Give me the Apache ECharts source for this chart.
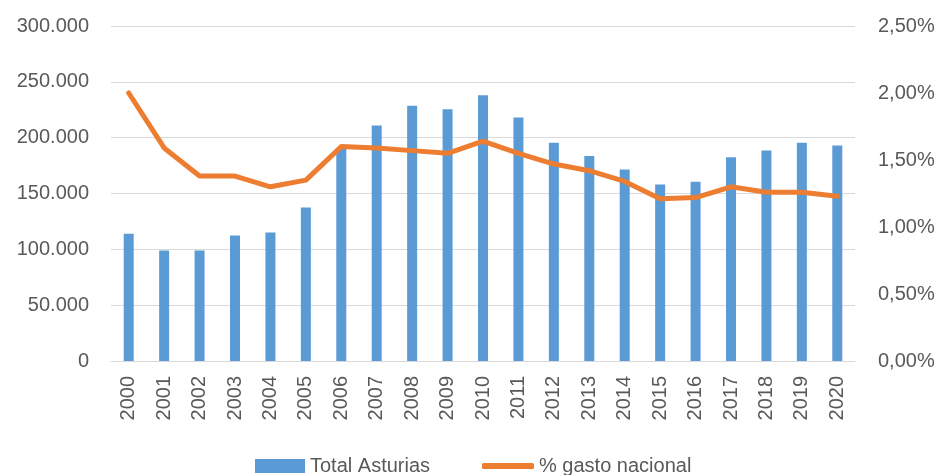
<!DOCTYPE html>
<html>
<head>
<meta charset="utf-8">
<script src="https://cdn.jsdelivr.net/npm/echarts@6/dist/echarts.min.js"></script>
<style>
  html, body { margin: 0; padding: 0; background: #fff; }
  #main { width: 940px; height: 475px; }
</style>
</head>
<body>
<div id="main"></div>
<script>
// datos
var years = ['2000', '2001', '2002', '2003', '2004', '2005', '2006', '2007', '2008', '2009', '2010',
    '2011', '2012', '2013', '2014', '2015', '2016', '2017', '2018', '2019', '2020'];
var totalAsturias = [114000, 99000, 99000, 112500, 115000, 137500, 190000, 211000, 228500, 225500, 238000,
    218000, 195500, 183500, 171500, 158000, 160500, 182500, 188500, 195500, 193000];
var gastoNacional = [2.00, 1.59, 1.38, 1.38, 1.30, 1.35, 1.60, 1.59, 1.57, 1.55, 1.64,
    1.55, 1.47, 1.42, 1.34, 1.21, 1.22, 1.30, 1.26, 1.26, 1.23];

var fontFam = "'Liberation Sans', sans-serif";

var myChart = echarts.init(document.getElementById('main'));

function miles(v) {
    return String(v).replace(/\B(?=(\d{3})+(?!\d))/g, '.');
}

var legendText = { fontSize: 20, color: '#595959', fontFamily: fontFam };

var option = {
    animation: false,
    textStyle: { fontFamily: fontFam },
    color: ['#5B9BD5', '#ED7D31'],
    grid: {
        left: 111,
        right: 85,
        top: 26,
        bottom: 114
    },
    legend: [
        {
            top: 451,
            left: 250,
            itemWidth: 50,
            itemHeight: 14,
            icon: 'rect',
            textStyle: legendText,
            data: ['Total Asturias']
        },
        {
            top: 451,
            left: 477,
            itemWidth: 52,
            itemHeight: 6,
            icon: 'roundRect',
            textStyle: legendText,
            data: [{ name: '% gasto nacional', itemStyle: { color: '#ED7D31' } }]
        }
    ],
    xAxis: {
        type: 'category',
        data: years,
        axisLine: { show: true, lineStyle: { color: '#D9D9D9', width: 1 } },
        axisTick: { show: false },
        axisLabel: {
            rotate: 90,
            margin: 15,
            fontSize: 20,
            color: '#595959',
            fontFamily: fontFam
        }
    },
    yAxis: [
        {
            type: 'value',
            min: 0,
            max: 300000,
            interval: 50000,
            axisLine: { show: false },
            axisTick: { show: false },
            splitLine: { lineStyle: { color: '#D9D9D9', width: 1 } },
            axisLabel: {
                margin: 22,
                fontSize: 20,
                color: '#595959',
                fontFamily: fontFam,
                formatter: function (v) { return miles(v); }
            }
        },
        {
            type: 'value',
            min: 0,
            max: 2.5,
            interval: 0.5,
            axisLine: { show: false },
            axisTick: { show: false },
            splitLine: { show: false },
            axisLabel: {
                margin: 23,
                fontSize: 20,
                color: '#595959',
                fontFamily: fontFam,
                formatter: function (v) { return v.toFixed(2).replace('.', ',') + '%'; }
            }
        }
    ],
    series: [
        {
            name: 'Total Asturias',
            type: 'bar',
            barWidth: 10,
            itemStyle: { color: '#5B9BD5' },
            data: totalAsturias
        },
        {
            name: '% gasto nacional',
            type: 'line',
            yAxisIndex: 1,
            symbol: 'none',
            lineStyle: { color: '#ED7D31', width: 5, cap: 'round', join: 'round' },
            data: gastoNacional
        }
    ]
};
myChart.setOption(option);
</script>
</body>
</html>
